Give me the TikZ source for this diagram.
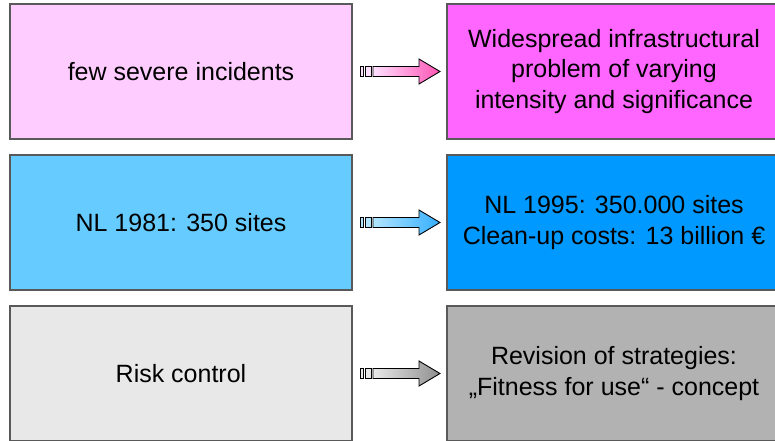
\documentclass[tikz,border=0pt]{standalone}
\usepackage{fontspec}
\setmainfont{Liberation Sans}
\usetikzlibrary{calc,positioning}

\definecolor{pinklight}{HTML}{FFCCFF}
\definecolor{pinkdark}{HTML}{FF66FF}
\definecolor{bluelight}{HTML}{66CCFF}
\definecolor{bluedark}{HTML}{0099FF}
\definecolor{greylight}{HTML}{E8E8E8}
\definecolor{greydark}{HTML}{B2B2B2}

% arrow with two small bars in front: #1 from node, #2 to node, #3 light, #4 dark
\newcommand{\barrow}[4]{%
  \coordinate (s) at ($(#1.east)+(8,0)$);
  \coordinate (t) at ($(#2.west)+(-7,0)$);
  \draw[line width=0.9pt,fill=#3] ($(s)+(0,-5)$) rectangle ($(s)+(3,5)$);
  \draw[line width=0.9pt,fill=#3] ($(s)+(5,-5)$) rectangle ($(s)+(11,5)$);
  \draw[line width=0.9pt,left color=#3,right color=#4]
    ($(s)+(13,-5)$) -- ($(t)+(-21,-5)$) -- ($(t)+(-21,-12.5)$) -- (t)
    -- ($(t)+(-21,12.5)$) -- ($(t)+(-21,5)$) -- ($(s)+(13,5)$) -- cycle;
}

\begin{document}
\begin{tikzpicture}[x=1pt,y=-1pt,
        box/.style={draw=black!65,line width=1.2pt,align=center,anchor=north west,
          minimum width=342pt,minimum height=135pt,outer sep=0pt,
          font=\fontsize{25}{30.5}\selectfont,node distance=16pt},
        wide/.style={box,minimum width=334pt}
      ]
  \clip (0,0) rectangle (775,440);

  \node   (few) [box,fill=pinklight] at (10,4) {few severe incidents};
  \node   (nl81) [box,fill=bluelight,below=of few] {NL 1981: 350 sites};
  \node   (risk) [box,fill=greylight,below=of nl81] {Risk control};

  \node   (wide) [wide,fill=pinkdark,right=95pt of few]
          {Widespread infrastructural\\problem of varying\\intensity and significance};
  \node   (nl95) [wide,fill=bluedark,right=95pt of nl81]
          {NL 1995: 350.000 sites\\Clean-up costs: 13 billion €};
  \node   (revision) [wide,fill=greydark,right=95pt of risk]
          {Revision of strategies:\\„Fitness for use“ - concept};

  \barrow{few}{wide}{pinklight!60}{pinkdark!70!red!90!pink}
  \barrow{nl81}{nl95}{bluelight!50}{bluedark!80}
  \barrow{risk}{revision}{greylight}{greydark!80!black}

\end{tikzpicture}
\end{document}
